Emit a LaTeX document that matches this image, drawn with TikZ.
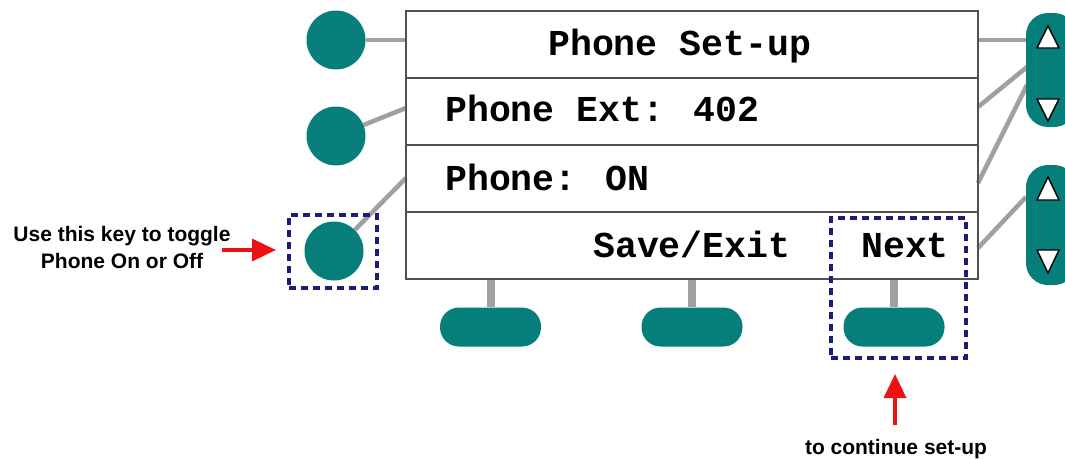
\documentclass[tikz,border=0pt]{standalone}
\usepackage{fontspec}
\setmainfont{Liberation Sans}
\newfontfamily\lcdfont{Liberation Mono}
\usetikzlibrary{arrows.meta,backgrounds}
\definecolor{teal1}{HTML}{067E7A}
\definecolor{wire}{HTML}{A0A0A0}
\definecolor{frame}{HTML}{505050}
\definecolor{navy1}{HTML}{1C1C7C}
\definecolor{red1}{HTML}{EE1111}
\begin{document}
\begin{tikzpicture}[x=1pt,y=-1pt,
 row/.style={draw=frame,line width=2pt,minimum width=572pt,minimum height=67pt,inner sep=0,outer sep=0},
 lcd/.style={font=\lcdfont\bfseries\fontsize{36.5}{40}\selectfont,anchor=base west,inner sep=0},
 roundkey/.style={circle,fill=teal1,minimum size=59pt,inner sep=0},
 softkey/.style={rectangle,rounded corners=19pt,fill=teal1,minimum width=101pt,minimum height=39pt,inner sep=0},
 scrollkey/.style={rectangle,rounded corners=22pt,fill=teal1,minimum width=50pt,inner sep=0},
 wireline/.style={draw=wire,line width=4.5pt},
 hilite/.style={draw=navy1,line width=4pt,dash pattern=on 7pt off 5pt,inner sep=0},
 callout/.style={font=\bfseries\fontsize{21}{27}\selectfont,align=center,inner sep=0},
 pointer/.style={draw=red1,line width=3.5pt,-{Triangle[width=22pt,length=24pt]}},
 tri/.style={fill=white,draw=black,line width=1.4pt}
]
\useasboundingbox (0,0) rectangle (1065,458);
\clip (0,0) rectangle (1065,458);

% screen rows
\node[row] (r1) at (692,44.5) {};
\node[row] (r2) at (692,111.5) {};
\node[row] (r3) at (692,178.5) {};
\node[row] (r4) at (692,245.5) {};

\node[lcd] (t1) at (548,55) {Phone Set-up};
\node[lcd] (t2) at (445,121) {Phone Ext: 402};
\node[lcd] (t3) at (445,190) {Phone: ON};
\node[lcd] (t4) at (593,257) {Save/Exit};
\node[lcd] (t5) at (861,257) {Next};

% left keys
\node[roundkey] (k1) at (336,40) {};
\node[roundkey] (k2) at (336,136) {};
\node[roundkey] (k3) at (334,251) {};

% right scroll keys
\node[scrollkey,minimum height=114pt] (s1) at (1051,70) {};
\node[scrollkey,minimum height=120pt] (s2) at (1051,225) {};
\draw[tri] (1037,48) -- (1059,48) -- (1048,26) -- cycle;
\draw[tri] (1037,99) -- (1059,99) -- (1048,121) -- cycle;
\draw[tri] (1037,200) -- (1059,200) -- (1048,177) -- cycle;
\draw[tri] (1037,250) -- (1059,250) -- (1048,273) -- cycle;

% bottom soft keys
\node[softkey] (f1) at (490.5,327) {};
\node[softkey] (f2) at (692,327) {};
\node[softkey] (f3) at (894,327) {};

% wires
\coordinate (a1) at (406,40);
\coordinate (a2) at (406,108);
\coordinate (a3) at (406,178);
\coordinate (b1) at (978,40);
\coordinate (b2) at (978,107);
\coordinate (b3) at (978,183);
\coordinate (b4) at (978,248);
\coordinate (e1) at (1027,40);
\coordinate (e2) at (1027,67);
\coordinate (e3) at (1027,85);
\coordinate (e4) at (1026,197);
\begin{scope}[on background layer]
\fill[white] (0,0) rectangle (1065,458);
\draw[wireline] (k1) -- (a1);
\draw[wireline] (k2) -- (a2);
\draw[wireline] (k3) -- (a3);
\draw[wireline] (b1) -- (e1);
\draw[wireline] (b2) -- (e2);
\draw[wireline] (b3) -- (e3);
\draw[wireline] (b4) -- (e4);
\draw[wireline,line width=8pt] (f1.north |- r4.south) -- (f1.north);
\draw[wireline,line width=8pt] (f2.north |- r4.south) -- (f2.north);
\draw[wireline,line width=8pt] (f3.north |- r4.south) -- (f3.north);
\end{scope}

% highlights
\node[hilite,minimum width=88pt,minimum height=73pt] (hA) at (333,251.5) {};
\node[hilite,minimum width=135pt,minimum height=140pt] (hB) at (898.5,288) {};

% callouts
\node[callout] (cA) at (122,247) {Use this key to toggle\\Phone On or Off};
\node[callout] (cB) at (896,449) {to continue set-up};
\coordinate (pA) at (222,250);
\coordinate (pB) at (895,425);
\draw[pointer] (pA) -- ([xshift=-11pt]hA.west |- pA);
\draw[pointer] (pB) -- ([yshift=-14pt]pB |- hB.south);
\end{tikzpicture}
\end{document}
